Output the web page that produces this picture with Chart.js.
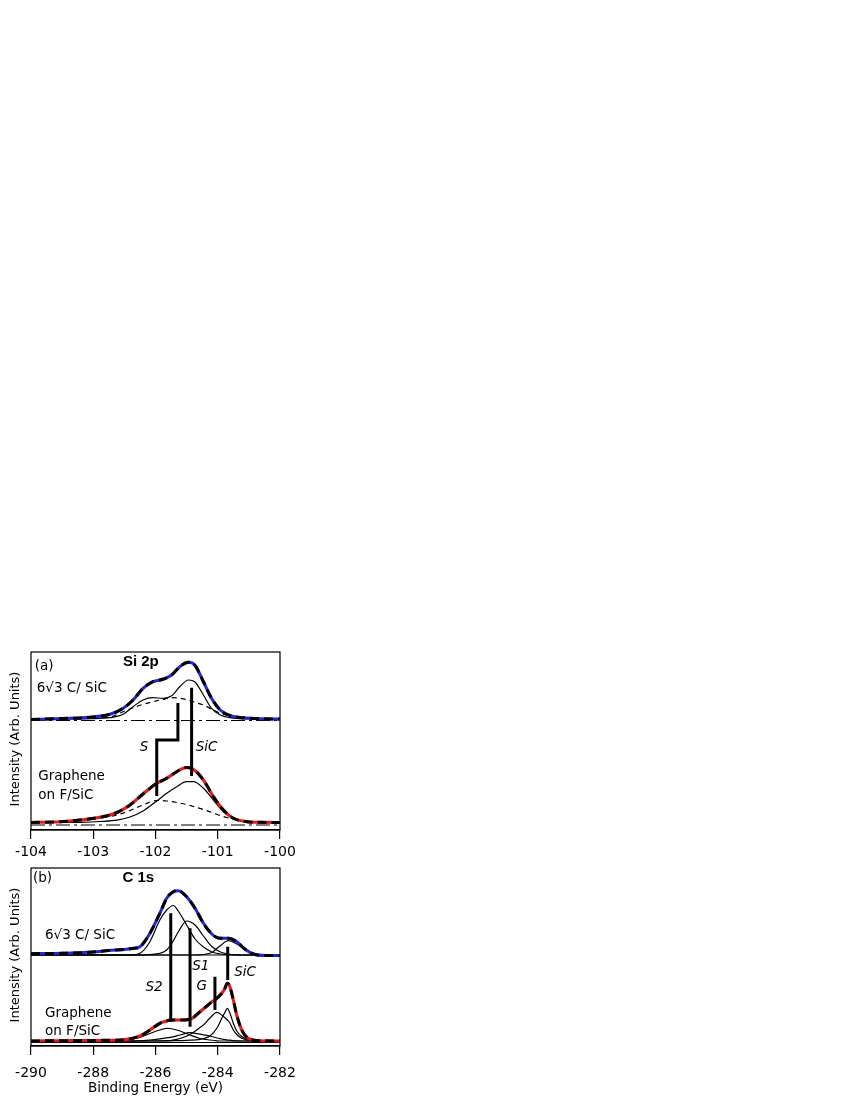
<!DOCTYPE html>
<html><head><meta charset="utf-8">
<script src="https://cdn.jsdelivr.net/npm/chart.js@4.4.1/dist/chart.umd.min.js"></script>
<style>
html,body{margin:0;padding:0;background:#fff;}
body{width:850px;height:1100px;position:relative;overflow:hidden;}
canvas{position:absolute;left:0;}
#ca{top:640px;}
#cb{top:855px;}
</style></head><body>
<canvas id="ca" width="340" height="225"></canvas>
<canvas id="cb" width="340" height="245"></canvas>
<script>
// ---------- Panel (a): Si 2p ----------
const ticksA = [-104, -103, -102, -101, -100];
const eTopA = [-104, -103.5, -103.05, -102.73, -102.52, -102.36, -102.2, -102.04, -101.87, -101.74, -101.61, -101.47, -101.37, -101.23, -101.1, -100.96, -100.8, -100.59, -100.3, -100];
const envTopA = [110.5, 111.5, 112.7, 115.7, 121.7, 130, 141.7, 148.3, 151, 155, 163.3, 167.7, 165, 148.3, 131.7, 120, 114.3, 112.3, 111.3, 111];
const sicTopA = [111, 111, 111.3, 112.3, 115.7, 123.3, 130, 132.3, 131.7, 134.3, 143.3, 150, 148.3, 135, 121.7, 115, 112.3, 111.2, 111, 111];
const sTopA = [110.8, 111.3, 112, 113, 118.3, 122.3, 125.7, 128.3, 130.7, 132.3, 131.7, 130, 127.7, 125, 121, 116.7, 114, 111.7, 111, 111];
const bgTopA = [109.5, 109.5];

const eBotA = [-104, -103.53, -103.21, -102.89, -102.62, -102.41, -102.2, -101.98, -101.82, -101.66, -101.5, -101.39, -101.23, -101.07, -100.91, -100.75, -100.53, -100.3, -100];
const envBotA = [7.5, 8.3, 10, 12.7, 17.5, 25, 36, 46.7, 51.7, 58.3, 62.5, 60.5, 50, 33.3, 20, 11.7, 8.3, 7.7, 7.5];
const sicBotA = [7.5, 7.5, 7.7, 8.5, 9.8, 13, 19, 29, 36.7, 43.3, 48.3, 48.3, 41.7, 30, 18.3, 11.7, 8, 7.5, 7.5];
const sBotA = [7.5, 8.3, 10, 12, 15, 19.5, 25, 29.5, 29, 27.5, 25.5, 23.5, 20.5, 17, 13.5, 11, 8.7, 7.8, 7.5];
const bgBotA = [5, 5];

const markSiCA_x = [-101.42, -101.42];
const markSiCA_y = [142.3, 54];
const markSA_x = [-101.64, -101.64, -101.98, -101.98];
const markSA_y = [127, 90, 90, 34];

// ---------- Panel (b): C 1s ----------
const ticksB = [-290, -288, -286, -284, -282];
const eTopB = [-290, -289, -288, -287.5, -287, -286.75, -286.5, -286.18, -285.86, -285.64, -285.43, -285.27, -285.0, -284.73, -284.46, -284.19, -283.93, -283.66, -283.39, -283.12, -282.86, -282.43, -282];
const envTopB = [92.3, 92.7, 94, 95.5, 96.5, 97.5, 99.3, 112.7, 132.7, 147.7, 154.3, 155.3, 149.3, 137.7, 122.7, 112, 107.7, 107.7, 104.3, 96.7, 92, 90.5, 90.5];
const s2TopB = [91, 91, 91, 91, 91, 91.2, 92.7, 104.3, 126, 136, 140.5, 135, 121, 107, 99, 94, 92, 91.3, 91, 91, 91, 91, 91];
const s1TopB = [91, 91, 91, 91, 91, 91, 91, 91.5, 92.7, 96, 105, 114, 125, 121, 110, 99.5, 94.3, 92, 91.2, 91, 91, 91, 91];
const sicTopB = [91, 91, 91, 91, 91, 91, 91, 91, 91, 91, 91, 91, 91, 91, 91.5, 93.5, 100, 105.3, 102, 96.5, 92.5, 91, 91];
const bgTopB = [91, 91];

const eBotB = [-290, -289, -288, -287.14, -286.5, -286.18, -285.86, -285.64, -285.53, -285.21, -284.89, -284.57, -284.46, -284.25, -284.03, -283.87, -283.78, -283.69, -283.61, -283.5, -283.39, -283.23, -283.02, -282.64, -282];
const envBotB = [5, 5.3, 5.6, 6, 10, 16, 22.7, 25, 26, 26, 26.7, 34.3, 37, 42.7, 47.7, 52.7, 57, 62.7, 59.3, 46, 31, 16, 7.7, 5.3, 5];
const s2BotB = [5, 5, 5.1, 5.5, 8.7, 12.5, 16, 17.7, 17.5, 15, 11, 7.5, 6.8, 6, 5.2, 5, 5, 5, 5, 5, 5, 5, 5, 5, 5];
const s1BotB = [5, 5, 5, 5, 5.2, 6, 7.2, 8.2, 8.7, 11, 13.3, 11.8, 11.2, 10, 8, 7, 6.5, 6, 5.8, 5.4, 5.2, 5, 5, 5, 5];
const gBotB = [5, 5, 5, 5, 5, 5, 5.1, 5.3, 5.5, 7.5, 11.5, 18.5, 21, 28, 33.7, 31, 28.5, 26, 23, 16, 11.5, 7.7, 5.8, 5, 5];
const sicBotB = [5, 5, 5, 5, 5, 5, 5, 5.1, 5.2, 5.4, 5.8, 6.7, 7.5, 10, 17.7, 27.7, 33, 37.7, 33, 22.7, 15, 9.5, 6.5, 5.2, 5];
const bgBotB = [3.5, 3.5];

const markS2B = {x: [-285.51, -285.51], y: [132.7, 24.3]};
const markS1B = {x: [-284.89, -284.89], y: [117.7, 19.3]};
const markGB = {x: [-284.09, -284.09], y: [69.3, 36]};
const markSiCB = {x: [-283.68, -283.68], y: [99.3, 66]};

// ---------- labels ----------
const labelsA = [
  {text: '(a)', x: -103.79, y: 163.3},
  {text: 'Si 2p', x: -102.236, y: 168, bold: true},
  {text: '6\u221A3 C/ SiC', x: -103.908, y: 141.7, left: true},
  {text: 'Graphene', x: -103.883, y: 53.3, left: true},
  {text: 'on F/SiC', x: -103.883, y: 35, left: true},
  {text: 'S', x: -102.185, y: 82.7, italic: true},
  {text: 'SiC', x: -101.178, y: 82.7, italic: true}
];
const labelsB = [
  {text: '(b)', x: -289.63, y: 167.7},
  {text: 'C 1s', x: -286.553, y: 167.7, bold: true},
  {text: '6\u221A3 C/ SiC', x: -289.55, y: 111, left: true},
  {text: 'Graphene', x: -289.55, y: 32.7, left: true},
  {text: 'on F/SiC', x: -289.55, y: 14.3, left: true},
  {text: 'S1', x: -284.545, y: 80, italic: true},
  {text: 'SiC', x: -283.124, y: 73.3, italic: true},
  {text: 'S2', x: -286.048, y: 58.3, italic: true},
  {text: 'G', x: -284.516, y: 59.3, italic: true}
];
const yTitle = 'Intensity (Arb. Units)';
const xTitle = 'Binding Energy (eV)';

// ---------- helpers ----------
function pts(xs, ys) { return xs.map((x, i) => ({x: x, y: ys[i]})); }
function curve(xs, ys, o) {
  return Object.assign({data: pts(xs, ys), borderColor: '#000', borderWidth: 1.2, pointRadius: 0,
    fill: false, cubicInterpolationMode: 'monotone', order: 3}, o || {});
}
function straight(xs, ys, o) {
  return Object.assign({data: pts(xs, ys), borderColor: '#000', borderWidth: 1.2, pointRadius: 0,
    fill: false, tension: 0, order: 4}, o || {});
}
function marker(xs, ys) {
  return straight(xs, ys, {borderWidth: 3, order: 0, borderCapStyle: 'butt', borderJoinStyle: 'miter'});
}

const BLUE = '#2222ee', RED = '#ff1010';
const FONT = '"DejaVu Sans", sans-serif';

const textPlugin = {
  id: 'texts',
  afterDatasetsDraw(chart, args, opts) {
    const {ctx, chartArea: a} = chart;
    const sx = chart.scales.x, sy = chart.scales.y;
    ctx.save();
    ctx.strokeStyle = '#000'; ctx.lineWidth = 1.2;
    ctx.strokeRect(a.left, a.top, a.right - a.left, a.bottom - a.top);
    ctx.fillStyle = '#000'; ctx.textBaseline = 'middle';
    for (const t of opts.items) {
      if (t.bold) ctx.font = 'bold 15px "Liberation Sans", Arial, sans-serif';
      else if (t.italic) ctx.font = 'italic 13.5px ' + FONT;
      else ctx.font = '13.5px ' + FONT;
      ctx.textAlign = t.left ? 'left' : 'center';
      ctx.fillText(t.text, sx.getPixelForValue(t.x), sy.getPixelForValue(t.y));
    }
    ctx.translate(16, (a.top + a.bottom) / 2 - 2);
    ctx.rotate(-Math.PI / 2);
    ctx.font = '13px ' + FONT; ctx.textAlign = 'center';
    ctx.fillText(yTitle, 0, 0);
    ctx.restore();
  }
};

function xScale(min, max, step, tickVals, height, pad, title) {
  const s = {
    type: 'linear', min: min, max: max, position: 'bottom',
    afterBuildTicks: (sc) => { sc.ticks = tickVals.map(v => ({value: v})); },
    ticks: {stepSize: step, font: {family: 'DejaVu Sans', size: 14}, color: '#000', padding: pad,
      maxRotation: 0, autoSkip: false, callback: v => String(v)},
    grid: {drawOnChartArea: false, drawTicks: true, tickLength: 9, color: '#000', lineWidth: 1.2},
    border: {display: true, color: '#000', width: 1.2},
    afterFit: (sc) => { sc.height = height; }
  };
  if (title) s.title = {display: true, text: title, font: {family: 'DejaVu Sans', size: 13.5}, color: '#000', padding: {top: 0, bottom: 3}};
  return s;
}

function baseOptions(xs, padTop, labels) {
  return {
    responsive: false, animation: false, devicePixelRatio: 1, events: [],
    layout: {padding: {left: 31, right: 60, top: padTop, bottom: 0}},
    plugins: {legend: {display: false}, tooltip: {enabled: false}, texts: {items: labels}},
    scales: {x: xs, y: {type: 'linear', min: 0, max: 178, display: false}}
  };
}

Chart.defaults.color = '#000';

new Chart(document.getElementById('ca'), {
  type: 'line',
  data: {datasets: [
    marker(markSiCA_x, markSiCA_y),
    marker(markSA_x, markSA_y),
    curve(eTopA, envTopA, {borderWidth: 3, borderDash: [9, 5], order: 1}),
    curve(eTopA, envTopA, {borderColor: BLUE, borderWidth: 3, order: 2}),
    curve(eTopA, sicTopA),
    curve(eTopA, sTopA, {borderDash: [5, 4]}),
    straight([-104, -100], bgTopA, {borderDash: [14, 4, 3, 4]}),
    curve(eBotA, envBotA, {borderWidth: 3, borderDash: [9, 5], order: 1}),
    curve(eBotA, envBotA, {borderColor: RED, borderWidth: 3, order: 2}),
    curve(eBotA, sicBotA),
    curve(eBotA, sBotA, {borderDash: [5, 4]}),
    straight([-104, -100], bgBotA, {borderDash: [14, 4, 3, 4]})
  ]},
  options: baseOptions(xScale(-104, -100, 1, ticksA, 35, 5, null), 12, labelsA),
  plugins: [textPlugin]
});

new Chart(document.getElementById('cb'), {
  type: 'line',
  data: {datasets: [
    marker(markS2B.x, markS2B.y),
    marker(markS1B.x, markS1B.y),
    marker(markGB.x, markGB.y),
    marker(markSiCB.x, markSiCB.y),
    curve(eTopB, envTopB, {borderWidth: 3, borderDash: [9, 5], order: 1}),
    curve(eTopB, envTopB, {borderColor: BLUE, borderWidth: 3, order: 2}),
    curve(eTopB, s2TopB),
    curve(eTopB, s1TopB),
    curve(eTopB, sicTopB),
    straight([-290, -282], bgTopB),
    curve(eBotB, envBotB, {borderWidth: 3, borderDash: [9, 5], order: 1}),
    curve(eBotB, envBotB, {borderColor: RED, borderWidth: 3, order: 2}),
    curve(eBotB, s2BotB),
    curve(eBotB, s1BotB),
    curve(eBotB, gBotB),
    curve(eBotB, sicBotB),
    straight([-290, -282], bgBotB)
  ]},
  options: baseOptions(xScale(-290, -282, 2, ticksB, 54, 10, xTitle), 13, labelsB),
  plugins: [textPlugin]
});
</script></body></html>
